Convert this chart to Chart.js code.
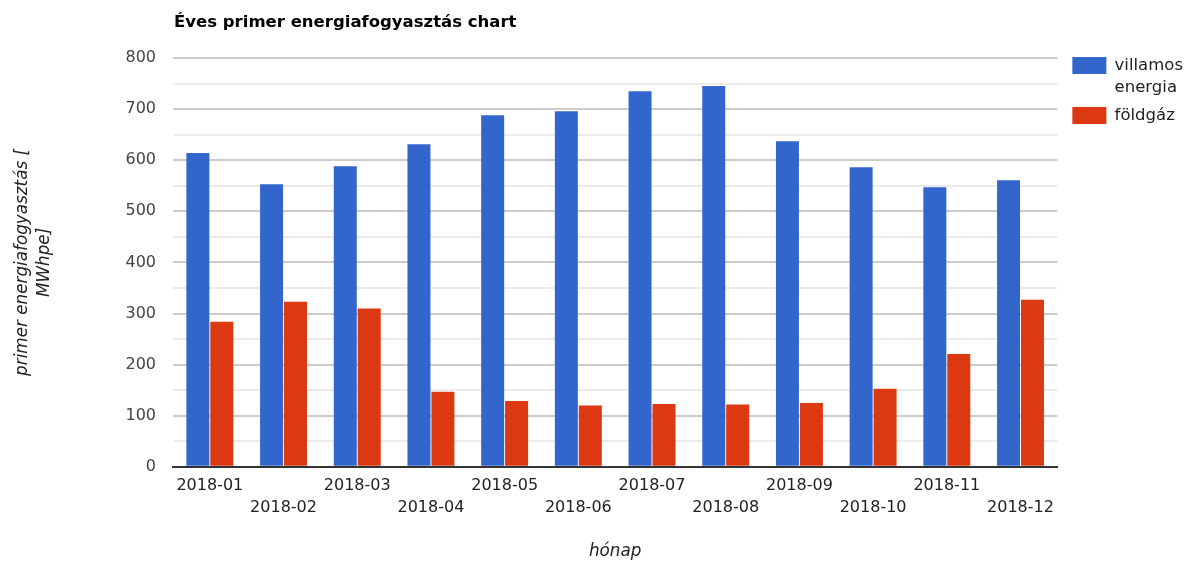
<!DOCTYPE html>
<html>
<head>
<meta charset="utf-8">
<script src="https://cdn.jsdelivr.net/npm/chart.js@4.4.0/dist/chart.umd.min.js"></script>
<style>
  html, body { margin: 0; padding: 0; background: #fff; }
  #wrap { width: 1184px; height: 562px; }
</style>
</head>
<body>
<div id="wrap"><canvas id="myChart"></canvas></div>
<script>
let months = ['2018-01', '2018-02', '2018-03', '2018-04', '2018-05', '2018-06',
              '2018-07', '2018-08', '2018-09', '2018-10', '2018-11', '2018-12'];
let villamos = [614, 553, 588, 631, 688, 696, 735, 745, 637, 586, 547, 561];
let foldgaz = [284, 323, 310, 147, 129, 120, 123, 122, 125, 153, 221, 327];
let chartTitle = 'Éves primer energiafogyasztás chart';
let yTitle = ['primer energiafogyasztás [', 'MWhpe]'];
let xTitle = 'hónap';

// every second month label goes to a lower row
let xLabels = months.map(function (m, i) {
    return i % 2 === 0 ? [m] : ['', m];
});

let font = 'DejaVu Sans';

// title drawn from the left edge of the plot, like the original
let leftTitle = {
    id: 'leftTitle',
    afterLayout: function (chart) {
        // nudge legend a bit right / up
        chart.legend.left += 9;
        chart.legend.right += 9;
        chart.legend.top -= 7;
    },
    afterDraw: function (chart) {
        let ctx = chart.ctx;
        ctx.save();
        ctx.font = 'bold 16.5px "' + font + '"';
        ctx.fillStyle = '#000';
        ctx.textBaseline = 'middle';
        ctx.textAlign = 'left';
        ctx.fillText(chartTitle, chart.chartArea.left + 1, 23);
        ctx.restore();
    }
};

let ctx = document.getElementById('myChart').getContext('2d');
let myChart = new Chart(ctx, {
    type: 'bar',
    data: {
        labels: xLabels,
        datasets: [{
            label: ['villamos', 'energia'],
            data: villamos,
            backgroundColor: '#3366CC',
            barPercentage: 0.96,
            categoryPercentage: 0.65
        }, {
            label: 'földgáz',
            data: foldgaz,
            backgroundColor: '#DC3912',
            barPercentage: 0.96,
            categoryPercentage: 0.65
        }]
    },
    options: {
        responsive: true,
        maintainAspectRatio: false,
        animation: false,
        layout: { padding: { top: 58, left: 0, right: 0, bottom: 0 } },
        plugins: {
            title: { display: false },
            tooltip: { enabled: false },
            legend: {
                position: 'right',
                align: 'start',
                labels: {
                    boxWidth: 34,
                    boxHeight: 17,
                    padding: 6,
                    color: '#222',
                    font: { family: font, size: 16.5, lineHeight: 1.33 }
                }
            }
        },
        scales: {
            x: {
                grid: { display: false, drawTicks: false },
                border: { display: true, color: '#333', width: 2 },
                ticks: {
                    color: '#222',
                    autoSkip: false,
                    maxRotation: 0,
                    padding: 8,
                    font: { family: font, size: 16, lineHeight: 1.375 }
                },
                title: {
                    display: true,
                    text: xTitle,
                    color: '#222',
                    padding: { top: 15, bottom: 0 },
                    font: { family: font, size: 16.8, style: 'italic' }
                }
            },
            y: {
                min: 0,
                max: 800,
                afterFit: function (scale) { scale.width = 173; },
                border: { display: false },
                grid: {
                    drawTicks: false,
                    lineWidth: 2,
                    color: function (c) {
                        if (c.tick.value === 0) return 'rgba(0,0,0,0)';
                        return c.tick.value % 100 === 0 ? '#cccccc' : '#ebebeb';
                    }
                },
                ticks: {
                    stepSize: 50,
                    padding: 17,
                    color: '#444',
                    font: { family: font, size: 16 },
                    callback: function (v) { return v % 100 === 0 ? v : ''; }
                },
                title: {
                    display: true,
                    text: yTitle,
                    color: '#222',
                    padding: { top: 12, bottom: 4 },
                    font: { family: font, size: 16.8, style: 'italic', lineHeight: 1.3 }
                }
            }
        }
    },
    plugins: [leftTitle]
});
</script>
</body>
</html>
